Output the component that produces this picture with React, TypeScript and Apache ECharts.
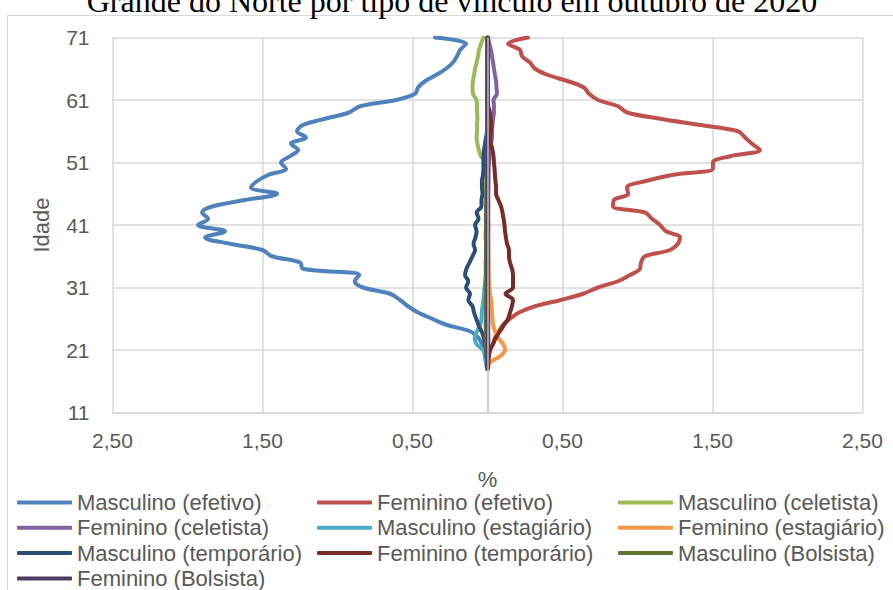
import React, { useEffect, useRef } from "react";
import * as echarts from "echarts";

const titleText = "Grande do Norte por tipo de vínculo em outubro de 2020";

const ages = [
  18, 19, 20, 21, 22, 23, 24, 25, 26, 27, 28, 29, 30, 31, 32, 33, 34, 35,
  36, 37, 38, 39, 40, 41, 42, 43, 44, 45, 46, 47, 48, 49, 50, 51, 52, 53,
  54, 55, 56, 57, 58, 59, 60, 61, 62, 63, 64, 65, 66, 67, 68, 69, 70, 71,
];

const mascEfetivo = [
  -0.003, -0.01, -0.017, -0.023, -0.037, -0.063, -0.117, -0.27, -0.37, -0.463,
  -0.53, -0.583, -0.65, -0.83, -0.885, -0.855, -1.23, -1.25, -1.437, -1.5,
  -1.717, -1.883, -1.75, -1.93, -1.863, -1.903, -1.83, -1.617, -1.403, -1.577,
  -1.537, -1.463, -1.343, -1.377, -1.317, -1.263, -1.31, -1.21, -1.27, -1.23,
  -1.083, -0.923, -0.85, -0.61, -0.483, -0.463, -0.417, -0.343, -0.277, -0.23,
  -0.203, -0.183, -0.143, -0.35,
];

const femEfetivo = [
  0.001, 0.002, 0.005, 0.017, 0.037, 0.05, 0.077, 0.103, 0.15, 0.21, 0.317,
  0.49, 0.637, 0.737, 0.87, 0.95, 1.017, 1.023, 1.05, 1.217, 1.27, 1.283,
  1.19, 1.15, 1.097, 1.05, 0.837, 0.843, 0.937, 0.93, 1.05, 1.23, 1.503,
  1.503, 1.617, 1.817, 1.763, 1.717, 1.67, 1.417, 1.15, 0.93, 0.87, 0.737,
  0.677, 0.643, 0.537, 0.403, 0.317, 0.283, 0.23, 0.217, 0.137, 0.27,
];

const mascCeletista = [
  -0.002, -0.004, -0.006, -0.008, -0.009, -0.01, -0.01, -0.011, -0.01, -0.009,
  -0.01, -0.011, -0.01, -0.01, -0.009, -0.01, -0.011, -0.01, -0.01, -0.009,
  -0.01, -0.01, -0.011, -0.01, -0.01, -0.009, -0.01, -0.01, -0.011, -0.01,
  -0.01, -0.01, -0.012, -0.017, -0.043, -0.057, -0.067, -0.073, -0.07, -0.07,
  -0.067, -0.07, -0.07, -0.073, -0.097, -0.1, -0.097, -0.09, -0.083, -0.073,
  -0.063, -0.057, -0.043, -0.027,
];

const femCeletista = [
  0.002, 0.003, 0.004, 0.005, 0.005, 0.006, 0.005, 0.005, 0.006, 0.005, 0.005,
  0.006, 0.005, 0.005, 0.006, 0.005, 0.005, 0.006, 0.005, 0.005, 0.006, 0.005,
  0.005, 0.006, 0.005, 0.005, 0.006, 0.005, 0.006, 0.006, 0.007, 0.007, 0.008,
  0.01, 0.013, 0.017, 0.023, 0.03, 0.03, 0.033, 0.037, 0.043, 0.043, 0.04,
  0.063, 0.06, 0.057, 0.05, 0.043, 0.037, 0.03, 0.023, 0.013, 0.003,
];

const mascEstagiario = [
  -0.003, -0.007, -0.013, -0.03, -0.075, -0.085, -0.07, -0.05, -0.04, -0.038,
  -0.033, -0.028, -0.023, -0.02, -0.015, -0.012, -0.009, -0.008, -0.007, -0.007,
  -0.006, -0.006, -0.005, -0.005, -0.005, -0.005, -0.004, -0.004, -0.004, -0.004,
  -0.003, -0.003, -0.003, -0.003, -0.003, -0.003, -0.002, -0.002, -0.002, -0.002,
  -0.002, -0.002, -0.002, -0.002, -0.002, -0.002, -0.002, -0.002, -0.002, -0.002,
  -0.002, -0.002, -0.002, -0.002,
];

const femEstagiario = [
  0.003, 0.017, 0.083, 0.117, 0.103, 0.07, 0.05, 0.037, 0.033, 0.03, 0.027,
  0.023, 0.017, 0.012, 0.009, 0.008, 0.007, 0.007, 0.006, 0.006, 0.005, 0.005,
  0.005, 0.005, 0.004, 0.004, 0.004, 0.004, 0.003, 0.003, 0.003, 0.003, 0.003,
  0.003, 0.003, 0.002, 0.002, 0.002, 0.002, 0.002, 0.002, 0.002, 0.002, 0.002,
  0.002, 0.002, 0.002, 0.002, 0.002, 0.002, 0.002, 0.002, 0.002, 0.002,
];

const mascTemporario = [
  -0.001, -0.003, -0.007, -0.01, -0.017, -0.025, -0.04, -0.06, -0.075, -0.09,
  -0.1, -0.128, -0.117, -0.143, -0.128, -0.15, -0.14, -0.12, -0.1, -0.083,
  -0.093, -0.08, -0.073, -0.083, -0.06, -0.072, -0.04, -0.04, -0.033, -0.037,
  -0.037, -0.03, -0.027, -0.027, -0.027, -0.023, -0.017, -0.01, -0.003, -0.002,
  -0.002, -0.002, -0.002, -0.002, -0.002, -0.002, -0.002, -0.002, -0.002, -0.002,
  -0.002, -0.002, -0.002, -0.002,
];

const femTemporario = [
  0.002, 0.005, 0.01, 0.017, 0.037, 0.057, 0.083, 0.11, 0.137, 0.15, 0.163,
  0.17, 0.12, 0.17, 0.17, 0.17, 0.163, 0.15, 0.143, 0.143, 0.13, 0.123, 0.117,
  0.113, 0.107, 0.1, 0.09, 0.073, 0.057, 0.057, 0.053, 0.05, 0.047, 0.043,
  0.04, 0.033, 0.023, 0.017, 0.023, 0.027, 0.02, 0.017, 0.005, 0.002, 0.002,
  0.002, 0.002, 0.002, 0.002, 0.002, 0.002, 0.002, 0.002, 0.002,
];

const mascBolsista = [
  -0.001, -0.003, -0.005, -0.008, -0.01, -0.011, -0.01, -0.012, -0.011, -0.01,
  -0.012, -0.011, -0.01, -0.012, -0.011, -0.01, -0.011, -0.012, -0.01, -0.011,
  -0.01, -0.012, -0.011, -0.01, -0.011, -0.01, -0.009, -0.008, -0.007, -0.006,
  -0.005, -0.005, -0.004, -0.004, -0.003, -0.003, -0.003, -0.003, -0.002, -0.002,
  -0.002, -0.002, -0.002, -0.002, -0.002, -0.002, -0.002, -0.002, -0.002, -0.002,
  -0.002, -0.002, -0.002, -0.002,
];

const femBolsista = [
  0.001, 0.001, 0.001, 0.002, 0.002, 0.002, 0.002, 0.002, 0.002, 0.002, 0.002,
  0.002, 0.002, 0.002, 0.002, 0.002, 0.002, 0.002, 0.002, 0.002, 0.002, 0.002,
  0.002, 0.002, 0.002, 0.002, 0.002, 0.002, 0.002, 0.002, 0.002, 0.002, 0.002,
  0.002, 0.002, 0.002, 0.002, 0.002, 0.002, 0.002, 0.002, 0.002, 0.002, 0.002,
  0.002, 0.002, 0.002, 0.002, 0.002, 0.002, 0.002, 0.002, 0.002, 0.002,
];

const seriesNames = [
  "Masculino (efetivo)",
  "Feminino (efetivo)",
  "Masculino (celetista)",
  "Feminino (celetista)",
  "Masculino (estagiário)",
  "Feminino (estagiário)",
  "Masculino (temporário)",
  "Feminino (temporário)",
  "Masculino (Bolsista)",
  "Feminino (Bolsista)",
];

const seriesValues = [
  mascEfetivo,
  femEfetivo,
  mascCeletista,
  femCeletista,
  mascEstagiario,
  femEstagiario,
  mascTemporario,
  femTemporario,
  mascBolsista,
  femBolsista,
];

const seriesColors = [
  "#4F81BD",
  "#C0504D",
  "#9BBB59",
  "#8064A2",
  "#4BACC6",
  "#F79646",
  "#2C4D75",
  "#772C2A",
  "#5F7530",
  "#4D3B62",
];

const legendColumns = [
  [0, 3, 6, 9],
  [1, 4, 7],
  [2, 5, 8],
];
const legendLefts = [12, 312, 613];

const FONT = "'Liberation Sans', Arial, sans-serif";
const TEXT_COLOR = "#595959";
const GRID_COLOR = "#d9d9d9";

export default function App() {
  const ref = useRef<HTMLDivElement>(null);

  useEffect(() => {
    if (!ref.current) return;
    const chart = echarts.init(ref.current, null, { renderer: "svg" });

    const series = seriesNames.map((name, i) => {
      const s: any = {
        name,
        type: "line",
        data: ages.map((a, k) => [seriesValues[i][k], a]),
        showSymbol: false,
        symbol: "none",
        smooth: 0.35,
        color: seriesColors[i],
        lineStyle: { width: 4, color: seriesColors[i], cap: "round", join: "round" },
      };
      if (i === 0) {
        s.markLine = {
          silent: true,
          symbol: "none",
          label: { show: false },
          lineStyle: { color: "#bfbfbf", width: 1.5, type: "solid" },
          data: [{ xAxis: 0 }],
        };
      }
      return s;
    });

    const legends = legendColumns.map((col, c) => ({
      orient: "vertical",
      left: legendLefts[c],
      top: 485,
      height: 300,
      data: col.map((i) => seriesNames[i]),
      icon: "roundRect",
      itemWidth: 55,
      itemHeight: 4,
      itemGap: 0.3,
      selectedMode: false,
      textStyle: {
        color: TEXT_COLOR,
        fontSize: 22,
        fontFamily: FONT,
        lineHeight: 25,
      },
    }));

    chart.setOption({
      animation: false,
      backgroundColor: "#ffffff",
      graphic: [
        {
          type: "rect",
          shape: { x: 7.5, y: 15.5, width: 1000, height: 1000 },
          style: { fill: "none", stroke: GRID_COLOR, lineWidth: 1 },
          silent: true,
          z: -10,
        },
        {
          type: "text",
          x: 452,
          y: 1,
          style: {
            text: titleText,
            fontFamily: "'Liberation Serif', 'Times New Roman', serif",
            fontSize: 32,
            fill: "#000000",
            align: "center",
            verticalAlign: "middle",
          },
          silent: true,
        },
      ],
      grid: { left: 112.5, right: 30.5, top: 37.5, bottom: 177.5 },
      legend: legends,
      xAxis: {
        type: "value",
        min: -2.5,
        max: 2.5,
        interval: 1,
        name: "%",
        nameLocation: "middle",
        nameGap: 56,
        nameTextStyle: { color: TEXT_COLOR, fontSize: 22, fontFamily: FONT },
        axisLine: { show: true, lineStyle: { color: GRID_COLOR, width: 1.5 } },
        axisTick: { show: false },
        axisLabel: {
          color: TEXT_COLOR,
          fontSize: 21,
          fontFamily: FONT,
          margin: 17,
          formatter: (v: number) => Math.abs(v).toFixed(2).replace(".", ","),
        },
        splitLine: { show: true, lineStyle: { color: GRID_COLOR, width: 1.5 } },
      },
      yAxis: {
        type: "value",
        min: 11,
        max: 71,
        interval: 10,
        name: "Idade",
        nameLocation: "middle",
        nameGap: 60,
        nameRotate: 90,
        nameTextStyle: { color: TEXT_COLOR, fontSize: 22, fontFamily: FONT },
        axisLine: { show: false },
        axisTick: { show: false },
        axisLabel: { color: TEXT_COLOR, fontSize: 21, fontFamily: FONT, margin: 23 },
        splitLine: { show: true, lineStyle: { color: GRID_COLOR, width: 1.5 } },
      },
      series,
    });

    return () => chart.dispose();
  }, []);

  return (
    <div
      ref={ref}
      style={{ position: "fixed", left: 0, top: 0, width: 893, height: 590 }}
    />
  );
}
